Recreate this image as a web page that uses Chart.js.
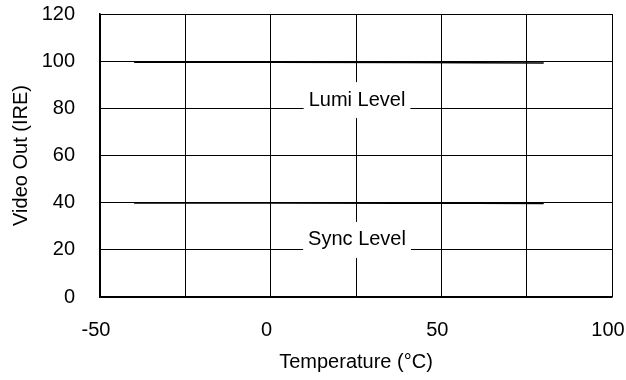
<!DOCTYPE html>
<html>
<head>
<meta charset="utf-8">
<script src="https://cdn.jsdelivr.net/npm/chart.js@4"></script>
<style>
html,body{margin:0;padding:0;background:#fff;}
#wrap{width:626px;height:380px;}
</style>
</head>
<body>
<div id="wrap"><canvas id="c" width="626" height="380"></canvas></div>
<script>
const lumiX = [-40, 0, 40, 60, 80];
const lumiY = [99.5, 99.5, 99.4, 99.3, 99.2];
const syncX = [-40, 0, 40, 60, 80];
const syncY = [39.9, 39.9, 39.8, 39.7, 39.6];
const xTicks = [-50, 0, 50, 100];
const yTicks = [0, 20, 40, 60, 80, 100, 120];
const labels = [
  {text: 'Lumi Level', x: 25.3, y: 83.5},
  {text: 'Sync Level', x: 25.3, y: 24.2}
];

const FONT = '"Liberation Sans", Arial, Helvetica, sans-serif';
const FS = 20;

const labelPlugin = {
  id: 'levelLabels',
  afterDatasetsDraw(chart) {
    const ctx = chart.ctx;
    const xs = chart.scales.x, ys = chart.scales.y;
    ctx.save();
    ctx.font = FS + 'px ' + FONT;
    ctx.textAlign = 'center';
    ctx.textBaseline = 'middle';
    labels.forEach(l => {
      const px = xs.getPixelForValue(l.x);
      const py = ys.getPixelForValue(l.y);
      const w = ctx.measureText(l.text).width + 10;
      const h = 36;
      ctx.fillStyle = '#fff';
      ctx.fillRect(px - w / 2, py - h / 2, w, h);
      ctx.fillStyle = '#000';
      ctx.fillText(l.text, px, py);
    });
    ctx.restore();
  }
};

new Chart(document.getElementById('c'), {
  type: 'scatter',
  data: {
    datasets: [
      {
        label: 'Lumi Level',
        data: lumiX.map((x, i) => ({x: x, y: lumiY[i]})),
        showLine: true,
        borderColor: '#000',
        borderWidth: 1.5,
        pointRadius: 0,
        fill: false
      },
      {
        label: 'Sync Level',
        data: syncX.map((x, i) => ({x: x, y: syncY[i]})),
        showLine: true,
        borderColor: '#000',
        borderWidth: 1.5,
        pointRadius: 0,
        fill: false
      }
    ]
  },
  options: {
    responsive: false,
    animation: false,
    layout: {padding: {top: 14, right: 14, left: 0, bottom: 0}},
    plugins: {
      legend: {display: false},
      tooltip: {enabled: false}
    },
    scales: {
      x: {
        type: 'linear',
        min: -50, max: 100,
        afterFit(s) { s.height = 83; s.paddingLeft = 0; s.paddingRight = 0; },
        afterBuildTicks(s) {
          const t = [];
          for (let v = -50; v <= 100; v += 25) t.push({value: v});
          s.ticks = t;
        },
        ticks: {
          color: '#000',
          font: {family: FONT, size: FS},
          padding: 21,
          labelOffset: -4,
          maxRotation: 0,
          autoSkip: false,
          callback: v => xTicks.includes(v) ? String(v) : ''
        },
        grid: {color: '#000', lineWidth: 1, drawTicks: false},
        border: {color: '#000', width: 1.5},
        title: {
          display: true,
          text: 'Temperature (°C)',
          color: '#000',
          font: {family: FONT, size: FS},
          padding: {top: 0, bottom: 6}
        }
      },
      y: {
        type: 'linear',
        min: 0, max: 120,
        afterFit(s) { s.width = 100; s.paddingTop = 0; s.paddingBottom = 0; },
        afterBuildTicks(s) {
          s.ticks = yTicks.map(v => ({value: v}));
        },
        ticks: {
          color: '#000',
          font: {family: FONT, size: FS},
          padding: 25,
          callback: v => String(v)
        },
        grid: {color: '#000', lineWidth: 1, drawTicks: false},
        border: {color: '#000', width: 1.5},
        title: {
          display: true,
          text: 'Video Out (IRE)',
          color: '#000',
          font: {family: FONT, size: FS},
          padding: {top: 9, bottom: 0}
        }
      }
    }
  },
  plugins: [labelPlugin]
});
</script>
</body>
</html>
